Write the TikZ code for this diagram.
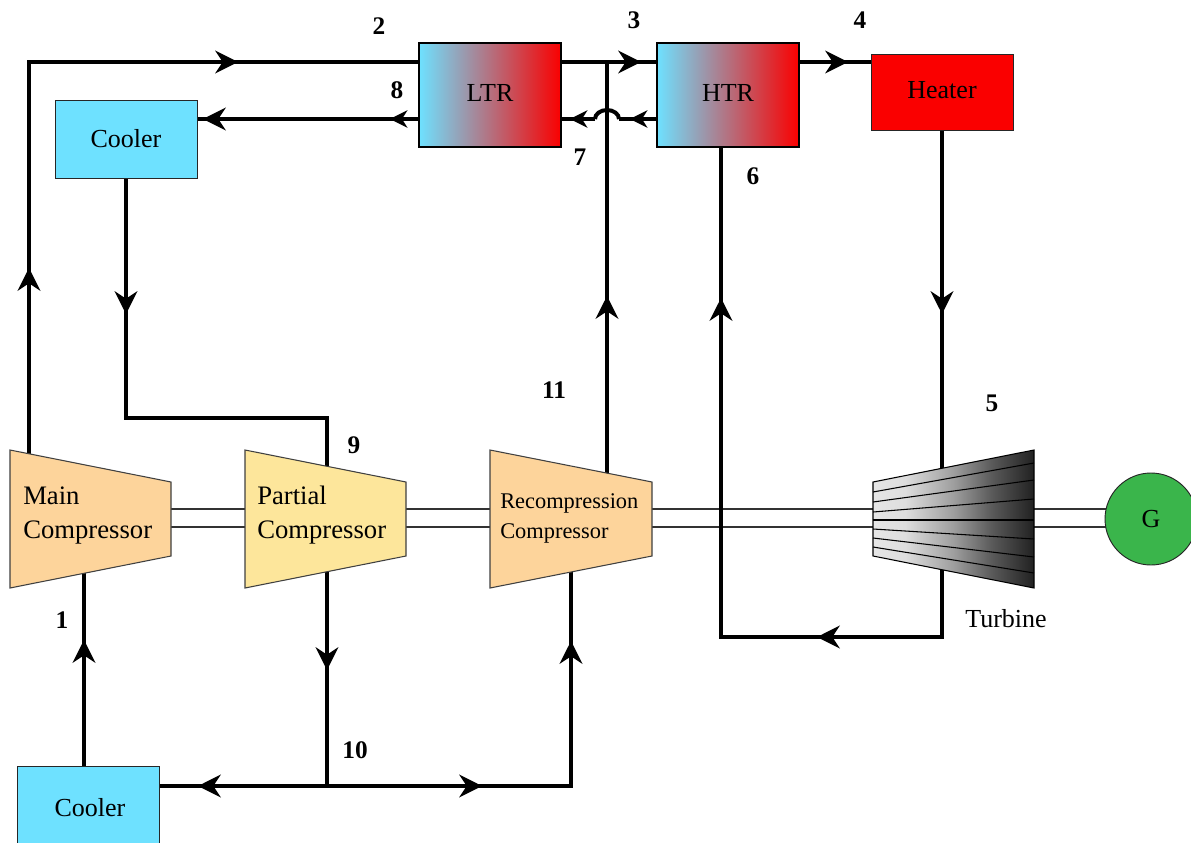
\documentclass[tikz,border=0pt]{standalone}
\usepackage{fontspec}
\setmainfont{Liberation Serif}
\usetikzlibrary{arrows.meta,decorations.markings,calc}
\definecolor{coolc}{RGB}{110,225,255}
\definecolor{hotc}{RGB}{250,0,0}
\definecolor{midc}{RGB}{172,128,148}
\definecolor{orangec}{RGB}{253,212,155}
\definecolor{yellowc}{RGB}{253,230,155}
\definecolor{greenc}{RGB}{58,181,75}
\pgfdeclarehorizontalshading{turbshade}{100bp}{
  rgb(0bp)=(0.9,0.9,0.9);
  rgb(25bp)=(0.9,0.9,0.9);
  rgb(35bp)=(0.87,0.87,0.87);
  rgb(50bp)=(0.62,0.62,0.62);
  rgb(62bp)=(0.35,0.35,0.35);
  rgb(75bp)=(0.13,0.13,0.13);
  rgb(100bp)=(0.13,0.13,0.13)}
\tikzset{
  flow/.style={line width=3pt,draw=black,line join=miter},
  tipat/.style={postaction={decorate,decoration={markings,
     mark=at position {#1*0.75pt} with {\arrow{Stealth[length=17pt,width=17pt,inset=5.5pt]}}}}},
  smalltip/.style={postaction={decorate,decoration={markings,
     mark=at position {#1*0.75pt} with {\arrow{Stealth[length=13pt,width=13pt,inset=4pt]}}}}},
  unit/.style={draw=black!85,line width=0.7pt,inner sep=0pt,font=\fontsize{19.5}{22}\selectfont},
  plainbox/.style={unit,fill=coolc,minimum width=106.5pt,minimum height=58.5pt},
  exch/.style={unit,draw=black,line width=1pt,left color=coolc,middle color=midc,right color=hotc,minimum width=106.5pt,minimum height=78pt},
  casing/.style={draw=black!75,line width=0.8pt,line join=miter},
  shaft/.style={draw=black!80,line width=0.8pt},
  blade/.style={draw=black,line width=0.8pt},
  num/.style={inner sep=0pt,font=\fontsize{19}{22}\selectfont\bfseries},
  txt/.style={inner sep=0pt,align=left,font=\fontsize{20}{25.5}\selectfont},
  smalltxt/.style={inner sep=0pt,align=left,font=\fontsize{16.8}{22.5}\selectfont},
}
\begin{document}
\begin{tikzpicture}[x=0.75pt,y=-0.75pt]
\useasboundingbox (0,0) rectangle (1191,842);
% --- connection points
\coordinate (mainOut) at (29,462);
\coordinate (topLeft) at (29,62);
\coordinate (ltrIn) at (419,62);
\coordinate (ltrOut) at (561,62);
\coordinate (tee3) at (607,62);
\coordinate (htrIn) at (657,62);
\coordinate (htrOut) at (799,62);
\coordinate (heatIn) at (871,62);
\coordinate (htrCold) at (657,119);
\coordinate (hopR) at (619,119);
\coordinate (hopL) at (595,119);
\coordinate (ltrCold) at (561,119);
\coordinate (ltrColdOut) at (419,119);
\coordinate (coolIn) at (197,119);
\coordinate (coolOut) at (126,178);
\coordinate (bendA) at (126,418);
\coordinate (bendB) at (327,418);
\coordinate (partIn) at (327,470);
\coordinate (partOut) at (327,570);
\coordinate (tee10) at (327,786);
\coordinate (coolBIn) at (159,786);
\coordinate (bendC) at (571,786);
\coordinate (recIn) at (571,570);
\coordinate (recOut) at (607,475);
\coordinate (coolBOut) at (84,766);
\coordinate (mainIn) at (84,570);
\coordinate (heatOut) at (942,130);
\coordinate (turbIn) at (942,475);
\coordinate (turbOut) at (942,565);
\coordinate (bendD) at (942,637);
\coordinate (bendE) at (721,637);
\coordinate (htrHot) at (721,147);
% --- shafts
\foreach \yy in {509,527}{
  \draw[shaft] (171,\yy) -- (245,\yy);
  \draw[shaft] (406,\yy) -- (490,\yy);
  \draw[shaft] (652,\yy) -- (873,\yy);
  \draw[shaft] (1034,\yy) -- (1110,\yy);
}
% --- connectors
\draw[flow,tipat=194,tipat=609] (mainOut) -- (topLeft) -- (ltrIn);
\draw[flow,tipat=80] (ltrOut) -- (htrIn);
\draw[flow,tipat=49] (htrOut) -- (heatIn);
\draw[flow,tipat=184] (heatOut) -- (turbIn);
\draw[flow,tipat=197,tipat=632] (turbOut) -- (bendD) -- (bendE) -- (htrHot);
\draw[flow,smalltip=27] (htrCold) -- (hopR);
\draw[flow] (hopR) arc[start angle=0,end angle=-180,x radius=12,y radius=9];
\draw[flow,smalltip=25] (hopL) -- (ltrCold);
\draw[flow,smalltip=29,tipat=216] (ltrColdOut) -- (coolIn);
\draw[flow,tipat=136] (coolOut) -- (bendA) -- (bendB) -- (partIn);
\draw[flow,tipat=100] (partOut) -- (tee10);
\draw[flow,tipat=129] (tee10) -- (coolBIn);
\draw[flow,tipat=155,tipat=389] (tee10) -- (bendC) -- (recIn);
\draw[flow,tipat=179] (recOut) -- (tee3);
\draw[flow,tipat=126] (coolBOut) -- (mainIn);
% --- compressors
\path[casing,fill=orangec] (10,450) -- (171,482) -- (171,556) -- (10,588) -- cycle;
\path[casing,fill=yellowc] (245,450) -- (406,482) -- (406,556) -- (245,588) -- cycle;
\path[casing,fill=orangec] (490,450) -- (652,482) -- (652,556) -- (490,588) -- cycle;
\node[txt,anchor=west] (mainT) at (23,516) {Main\\Compressor};
\node[txt,anchor=west] (partT) at (257,515) {Partial\\Compressor};
\node[smalltxt,anchor=west] (recT) at (500,518) {Recompression\\Compressor};
% --- turbine
\path[shading=turbshade,draw=black,line width=0.8pt,line join=miter]
  (873,482) -- (1034,450) -- (1034,588) -- (873,556) -- cycle;
\draw[blade] (873,492) -- (1034,463);
\draw[blade] (873,502) -- (1034,480);
\draw[blade] (873,512) -- (1034,499);
\draw[blade] (873,520) -- (1034,520);
\draw[blade] (873,529) -- (1034,539);
\draw[blade] (873,538) -- (1034,557);
\draw[blade] (873,547) -- (1034,573);
\node[txt,font=\fontsize{19.5}{22}\selectfont] (turbT) at (1006,619) {Turbine};
% --- boxes
\node[exch] (ltr) at (490,95) {\raisebox{3pt}{LTR}};
\node[exch] (htr) at (728,95) {\raisebox{3.5pt}{HTR}};
\node[unit,fill=hotc,minimum width=106.5pt,minimum height=57pt] (heater) at (942,92) {\raisebox{3.5pt}{Heater}};
\node[plainbox] (cooler) at (126,139) {Cooler};
\node[plainbox,minimum height=63pt] (coolerB) at (88,808) {\hspace{3pt}\raisebox{1.5pt}{Cooler}};
\node[unit,circle,fill=greenc,minimum size=69pt] (gen) at (1151,519) {G};
% --- state numbers
\node[num] (n1) at (62,620) {1};
\node[num] (n2) at (379,26) {2};
\node[num] (n3) at (634,20) {3};
\node[num] (n4) at (860,20) {4};
\node[num] (n5) at (992,403) {5};
\node[num] (n6) at (753,176) {6};
\node[num] (n7) at (580,157) {7};
\node[num] (n8) at (397,90) {8};
\node[num] (n9) at (354,445) {9};
\node[num] (n10) at (355,750) {10};
\node[num] (n11) at (554,390) {11};
\end{tikzpicture}
\end{document}
